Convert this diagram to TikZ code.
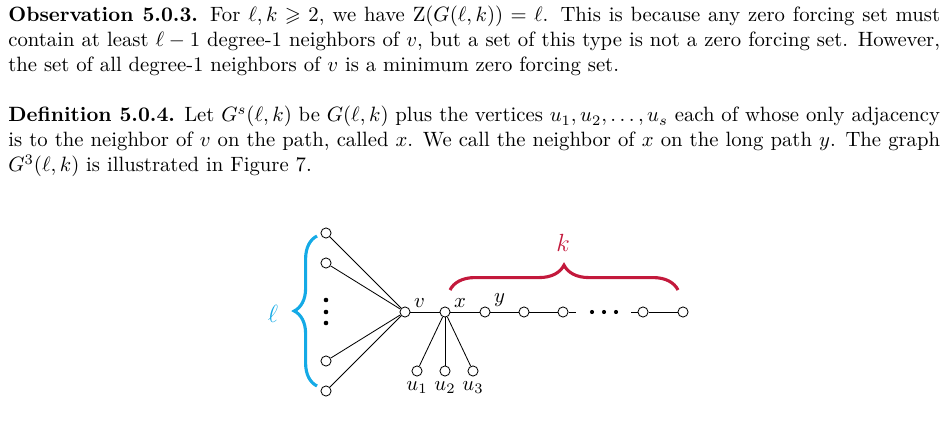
\documentclass[tikz,border=0pt]{standalone}
\usepackage{amsmath,amssymb}
\usepackage{tikz}
\usetikzlibrary{decorations.pathreplacing}
\definecolor{lblue}{RGB}{20,170,230}
\definecolor{lred}{RGB}{195,25,60}
\tikzset{vtx/.style={circle,draw,fill=white,inner sep=0pt,minimum size=4.9pt}}
\begin{document}
\begin{tikzpicture}[x=0.483pt,y=-0.483pt]
        \useasboundingbox (0,0) rectangle (948,436);
        \node[anchor=north west,inner sep=0pt,text width=450pt,align=justify] (obs) at (8,6)
        {\textbf{Observation 5.0.3.} For $\ell,k\geqslant 2$, we have $\mathrm{Z}(G(\ell,k))=\ell$. This is because any zero forcing set must contain at least $\ell-1$ degree-1 neighbors of $v$, but a set of this type is not a zero forcing set. However, the set of all degree-1 neighbors of $v$ is a minimum zero forcing set.};
        \node[anchor=north west,inner sep=0pt,text width=450pt,align=justify] (defn) at (8,106)
        {\textbf{Definition 5.0.4.} Let $G^s(\ell,k)$ be $G(\ell,k)$ plus the vertices $u_1,u_2,\ldots,u_s$ each of whose only adjacency is to the neighbor of $v$ on the path, called $x$. We call the neighbor of $x$ on the long path $y$. The graph $G^3(\ell,k)$ is illustrated in Figure 7.};
        %%
        \node[vtx] (a1) at (326,233) {};
        \node[vtx] (a2) at (326,263) {};
        \node[vtx] (a3) at (326,361) {};
        \node[vtx] (a4) at (326,391) {};
        \foreach \yy in {300,312,323} \fill (326,\yy) circle (1.1pt);
        \node[vtx,label={[yshift=-3pt,xshift=-1pt]above right:$v$}] (v) at (405,312) {};
        \node[vtx,label={[yshift=-3pt,xshift=-1pt]above right:$x$}] (x) at (445,312) {};
        \node[vtx,label={[yshift=-3pt,xshift=-1pt]above right:$y$}] (y) at (485,312) {};
        \node[vtx] (p1) at (524,312) {};
        \node[vtx] (p2) at (563,312) {};
        \node[vtx] (p3) at (643,312) {};
        \node[vtx] (p4) at (683,312) {};
        \coordinate (s1) at (576,312);
        \coordinate (s2) at (631,312);
        \foreach \xx in {592,604,616} \fill (\xx,312) circle (1pt);
        \node[vtx,label={[yshift=1pt]below:$u_1$}] (u1) at (417,371) {};
        \node[vtx,label={[yshift=1pt]below:$u_2$}] (u2) at (445,371) {};
        \node[vtx,label={[yshift=1pt]below:$u_3$}] (u3) at (473,371) {};
        \foreach \a in {a1,a2,a3,a4} \draw (\a) -- (v);
        \draw (v) -- (x) -- (y) -- (p1) -- (p2) -- (s1);
        \draw (s2) -- (p3) -- (p4);
        \foreach \u in {u1,u2,u3} \draw (x) -- (\u);
        %%
        \draw[lblue,line width=1.5pt,decorate,decoration={brace,amplitude=11pt}] (317,386) -- (317,236);
        \node[lblue,font=\large] (l) at (273,314) {$\ell$};
        \draw[lred,line width=1.5pt,decorate,decoration={brace,amplitude=12pt}] (450,290) -- (678,290);
        \node[lred,font=\large] (k) at (563,243) {$k$};
    \end{tikzpicture}
\end{document}
